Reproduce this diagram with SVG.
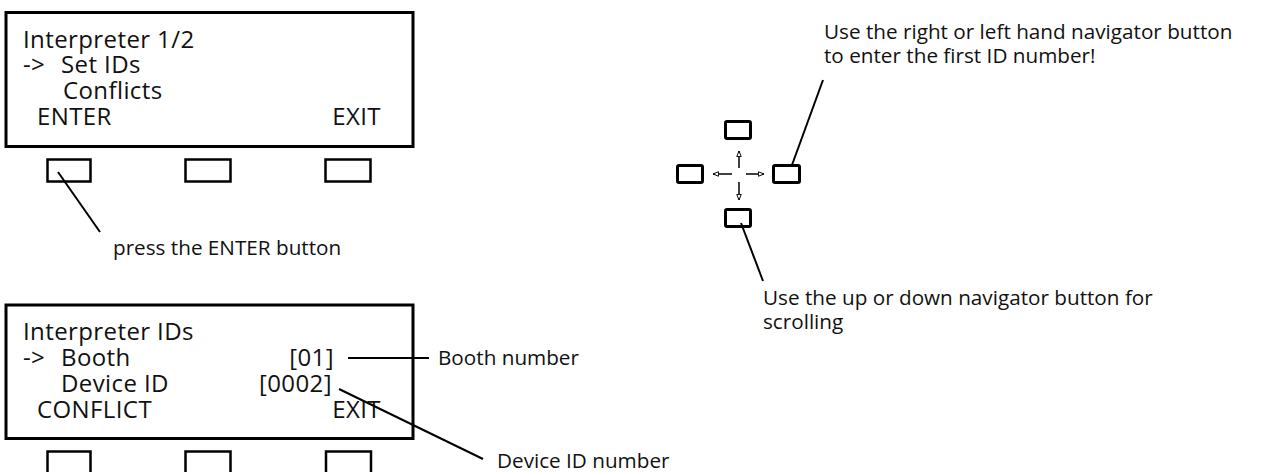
<svg xmlns="http://www.w3.org/2000/svg" width="1276" height="472" viewBox="0 0 1276 472">
<style>
.disp{fill:none;stroke:#000;stroke-width:3}
.btn{fill:none;stroke:#000;stroke-width:2.5}
.nav{fill:none;stroke:#000;stroke-width:3}
.ln{fill:none;stroke:#000;stroke-width:2}
.ar{fill:none;stroke:#000;stroke-width:1.5}
.t{font-family:"Open Sans","DejaVu Sans",sans-serif;font-size:24px;letter-spacing:0.4px;fill:#111}
.c{font-family:"Open Sans","DejaVu Sans",sans-serif;font-size:20.7px;fill:#111}
</style>
<defs>
<marker id="ah" viewBox="0 0 10 10" refX="9" refY="5" markerWidth="7" markerHeight="7" orient="auto" markerUnits="userSpaceOnUse">
<path d="M1,1.8 L9,5 L1,8.2 Z" fill="#fff" stroke="#000" stroke-width="1.4"/>
</marker>
</defs>
<rect width="1276" height="472" fill="#fff"/>
<g id="display1">
<rect class="disp" x="6" y="12.5" width="407" height="134"/>
<text class="t" x="23" y="48">Interpreter 1/2</text>
<text class="t" x="23" y="73">-&gt;</text>
<text class="t" x="61" y="73">Set IDs</text>
<text class="t" x="63" y="99">Conflicts</text>
<text class="t" x="37" y="125">ENTER</text>
<text class="t" x="381" y="125" text-anchor="end">EXIT</text>
</g>
<g id="buttons1">
<rect class="btn" x="47.5" y="159.5" width="43" height="22"/>
<rect class="btn" x="185.5" y="159.5" width="45" height="22"/>
<rect class="btn" x="325.5" y="159.5" width="45" height="22"/>
</g>
<g id="display2">
<rect class="disp" x="6" y="305" width="407" height="133.5"/>
<text class="t" x="23" y="340">Interpreter IDs</text>
<text class="t" x="23" y="366">-&gt;</text>
<text class="t" x="61" y="366">Booth</text>
<text class="t" x="334" y="366" text-anchor="end">[01]</text>
<text class="t" x="61" y="392">Device ID</text>
<text class="t" x="332" y="392" text-anchor="end">[0002]</text>
<text class="t" x="37" y="418">CONFLICT</text>
<text class="t" x="381" y="418" text-anchor="end">EXIT</text>
</g>
<g id="buttons2">
<rect class="btn" x="47.5" y="451.5" width="43" height="30"/>
<rect class="btn" x="185.5" y="451.5" width="45" height="30"/>
<rect class="btn" x="326" y="451.5" width="45" height="30"/>
</g>
<g id="navigator">
<rect class="nav" x="725.5" y="121.5" width="25" height="17" rx="1.5"/>
<rect class="nav" x="677.5" y="165.5" width="25" height="17" rx="1.5"/>
<rect class="nav" x="773.5" y="165.5" width="26" height="17" rx="1.5"/>
<rect class="nav" x="725.5" y="209.5" width="25" height="17" rx="1.5"/>
<line class="ar" x1="739" y1="168" x2="739" y2="151" marker-end="url(#ah)"/>
<line class="ar" x1="732" y1="174" x2="713" y2="174" marker-end="url(#ah)"/>
<line class="ar" x1="746" y1="174" x2="764" y2="174" marker-end="url(#ah)"/>
<line class="ar" x1="739" y1="182" x2="739" y2="200" marker-end="url(#ah)"/>
</g>
<g id="connectors">
<line class="ln" x1="58" y1="172" x2="100" y2="232"/>
<line class="ln" x1="348" y1="358" x2="429" y2="358"/>
<line class="ln" x1="339" y1="389" x2="483" y2="459"/>
<line class="ln" x1="792" y1="165" x2="823" y2="80"/>
<line class="ln" x1="741" y1="223" x2="763" y2="281"/>
</g>
<g id="labels">
<text class="c" x="113" y="255">press the ENTER button</text>
<text class="c" x="438" y="365">Booth number</text>
<text class="c" x="497" y="468">Device ID number</text>
<text class="c" x="824" y="39">Use the right or left hand navigator button</text>
<text class="c" x="824" y="63">to enter the first ID number!</text>
<text class="c" x="763" y="305">Use the up or down navigator button for</text>
<text class="c" x="763" y="329">scrolling</text>
</g>
</svg>
